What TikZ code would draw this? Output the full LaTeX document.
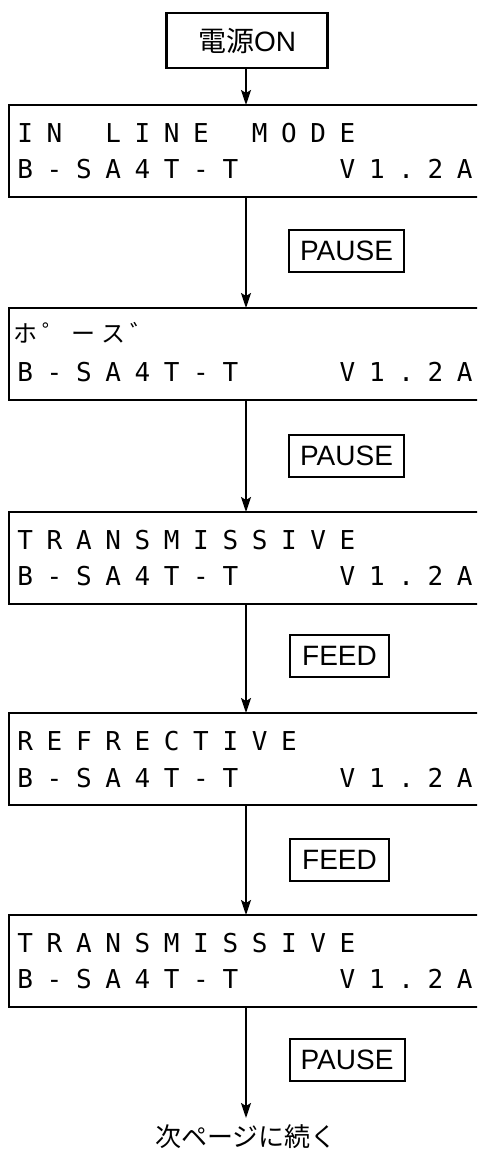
\documentclass[tikz,border=0pt]{standalone}
\usepackage{fontspec}
\setmainfont{Liberation Sans}
\newfontfamily\jp{Noto Sans CJK JP}
\newfontfamily\lcdfont{DejaVu Sans Mono}
\usetikzlibrary{arrows.meta}
\newlength\lcdpitch \setlength\lcdpitch{29.3pt}
\makeatletter
\newcommand\lcdline[1]{\@tfor\lcdch:=#1\do{\makebox[\lcdpitch][c]{\lcdch}}}
\makeatother
\begin{document}
\begin{tikzpicture}[x=1pt,y=-1pt,
  lcdbox/.style={draw, line width=2.5pt, minimum width=600pt, minimum height=92pt, inner sep=0pt, outer sep=0pt, anchor=north west},
  lcdtext/.style={font=\lcdfont\fontsize{26}{26}\selectfont, inner sep=0pt, anchor=base west},
  keybox/.style={draw, line width=2pt, font=\fontsize{28}{30}\selectfont, minimum height=42pt, inner sep=0pt},
  flow/.style={line width=2pt, -{Stealth[length=15pt,width=10pt,inset=3pt]}}]
\useasboundingbox (0,0) rectangle (477,1151);
\clip (0,0) rectangle (477,1151);
\fill[white] (0,0) rectangle (477,1151);

\coordinate (axis) at (246,0);

% power on
\node[draw, line width=2.5pt, minimum width=161pt, minimum height=55pt,
      font=\fontsize{28}{30}\selectfont, inner sep=0pt] (pw) at (247,40.5) {{\jp 電源}ON};

% LCD boxes
\node[lcdbox] (b1) at (9,105) {};
\node[lcdtext] (b1l1) at (10.4,142) {\lcdline{IN~LINE~MODE}};
\node[lcdtext] (b1l2) at (10.4,178) {\lcdline{B-SA4T-T~~~V1.2A}};

\node[lcdbox] (b2) at (9,308) {};
\node[lcdtext, font=\jp\fontsize{24}{24}\selectfont] (b2l1) at (10.4,342) {\lcdline{ホ゜ース゛}};
\node[lcdtext] (b2l2) at (10.4,381) {\lcdline{B-SA4T-T~~~V1.2A}};

\node[lcdbox] (b3) at (9,512) {};
\node[lcdtext] (b3l1) at (10.4,549) {\lcdline{TRANSMISSIVE}};
\node[lcdtext] (b3l2) at (10.4,585) {\lcdline{B-SA4T-T~~~V1.2A}};

\node[lcdbox] (b4) at (9,713) {};
\node[lcdtext] (b4l1) at (10.4,750) {\lcdline{REFRECTIVE}};
\node[lcdtext] (b4l2) at (10.4,787) {\lcdline{B-SA4T-T~~~V1.2A}};

\node[lcdbox] (b5) at (9,915) {};
\node[lcdtext] (b5l1) at (10.4,952) {\lcdline{TRANSMISSIVE}};
\node[lcdtext] (b5l2) at (10.4,988) {\lcdline{B-SA4T-T~~~V1.2A}};

% key labels
\node[keybox, minimum width=115pt] (k1) at (346.5,251) {PAUSE};
\node[keybox, minimum width=115pt] (k2) at (346.5,456) {PAUSE};
\node[keybox, minimum width=99pt] (k3) at (339.5,656) {FEED};
\node[keybox, minimum width=99pt] (k4) at (339.5,859.5) {FEED};
\node[keybox, minimum width=115pt] (k5) at (347,1060) {PAUSE};

% connectors
\draw[flow] (pw.south -| axis) -- (b1.north -| axis);
\draw[flow] (b1.south -| axis) -- (b2.north -| axis);
\draw[flow] (b2.south -| axis) -- (b3.north -| axis);
\draw[flow] (b3.south -| axis) -- (b4.north -| axis);
\draw[flow] (b4.south -| axis) -- (b5.north -| axis);
\coordinate (endc) at (246,1118);
\draw[flow] (b5.south -| axis) -- (endc);
\node[font=\jp\fontsize{26}{26}\selectfont, inner sep=0pt] (cont) at (246,1137) {次ページに続く};
\end{tikzpicture}
\end{document}
